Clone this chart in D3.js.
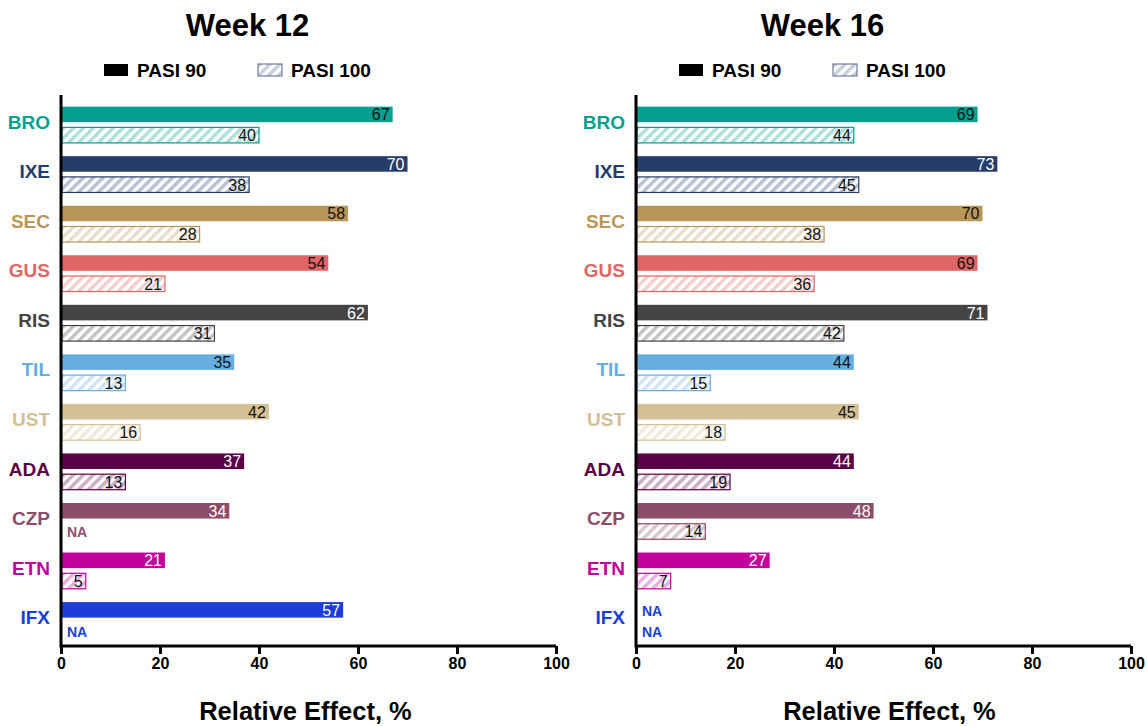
<!DOCTYPE html>
<html>
<head>
<meta charset="utf-8">
<script src="https://cdn.jsdelivr.net/npm/d3@7"></script>
<style>
  body { margin: 0; background: #fff; }
  svg { font-family: "Liberation Sans", Arial, sans-serif; }
</style>
</head>
<body>
<svg width="1147" height="726"></svg>
<script>
const drugs = ['BRO', 'IXE', 'SEC', 'GUS', 'RIS', 'TIL', 'UST', 'ADA', 'CZP', 'ETN', 'IFX']
const drugColors = ['#04a08f', '#263c69', '#b89758', '#e06565', '#444444', '#66ade0', '#d3c096', '#5a0046', '#8c4d6a', '#c4009b', '#1c3ed8']
// label colour inside the PASI 90 bar
const darkBars = ['IXE', 'RIS', 'ADA', 'CZP', 'ETN', 'IFX']

const week12Pasi90 = [67, 70, 58, 54, 62, 35, 42, 37, 34, 21, 57]
const week12Pasi100 = [40, 38, 28, 21, 31, 13, 16, 13, null, 5, null]
const week16Pasi90 = [69, 73, 70, 69, 71, 44, 45, 44, 48, 27, null]
const week16Pasi100 = [44, 45, 38, 36, 42, 15, 18, 19, 14, 7, null]

const xTicks = [0, 20, 40, 60, 80, 100]
const seriesNames = ['PASI 90', 'PASI 100']

const svg = d3.select('svg')
const defs = svg.append('defs')

function hatch(id, color) {
  const p = defs.append('pattern')
    .attr('id', id)
    .attr('patternUnits', 'userSpaceOnUse')
    .attr('width', 7).attr('height', 7)
    .attr('patternTransform', 'rotate(45)')
  p.append('rect').attr('width', 7).attr('height', 7).attr('fill', '#fff')
  p.append('rect').attr('width', 3.5).attr('height', 7).attr('fill', color).attr('opacity', 0.32)
}
drugs.forEach((d, i) => hatch('h-' + d, drugColors[i]))
hatch('h-legend', '#56668f')

const panels = [
  {title: 'Week 12', left: 61, labelShift: -3, p90: week12Pasi90, p100: week12Pasi100},
  {title: 'Week 16', left: 636, labelShift: 6, p90: week16Pasi90, p100: week16Pasi100}
]

panels.forEach(panel => {
  const g = svg.append('g')
  const xScale = d3.scaleLinear().domain([0, 100]).range([panel.left, panel.left + 495])
  const yScale = d3.scaleBand().domain(drugs).range([100, 645])
  const inner = d3.scaleBand().domain(seriesNames).range([0, yScale.bandwidth()]).paddingInner(0.25).paddingOuter(0.32)
  const mid = (xScale.range()[0] + xScale.range()[1]) / 2

  g.append('text')
    .attr('x', mid - 61).attr('y', 36)
    .attr('text-anchor', 'middle')
    .attr('font-size', 31).attr('font-weight', 'bold')
    .text(panel.title)

  // legend
  const lg = g.append('g').attr('transform', 'translate(' + (panel.left + 43) + ',0)')
  lg.append('rect').attr('x', 0).attr('y', 64).attr('width', 24).attr('height', 12).attr('fill', '#000')
  lg.append('text').attr('x', 33).attr('y', 77).attr('font-size', 19).attr('font-weight', 'bold').text(seriesNames[0])
  lg.append('rect').attr('x', 154).attr('y', 64).attr('width', 24).attr('height', 12)
    .attr('fill', 'url(#h-legend)').attr('stroke', '#56668f').attr('stroke-width', 1)
  lg.append('text').attr('x', 187).attr('y', 77).attr('font-size', 19).attr('font-weight', 'bold').text(seriesNames[1])

  const rows = g.append('g').selectAll('g')
    .data(drugs.map((d, i) => ({drug: d, color: drugColors[i], p90: panel.p90[i], p100: panel.p100[i]})))
    .enter().append('g')
    .attr('transform', d => 'translate(0,' + yScale(d.drug) + ')')

  rows.append('text')
    .attr('x', panel.left - 11).attr('y', yScale.bandwidth() / 2 + 4)
    .attr('text-anchor', 'end')
    .attr('font-size', 19).attr('font-weight', 'bold')
    .attr('fill', d => d.color)
    .text(d => d.drug)

  // PASI 90 solid bars
  rows.filter(d => d.p90 != null).append('rect')
    .attr('x', xScale(0)).attr('y', inner('PASI 90'))
    .attr('width', d => xScale(d.p90) - xScale(0))
    .attr('height', inner.bandwidth())
    .attr('fill', d => d.color)
  rows.filter(d => d.p90 != null).append('text')
    .attr('x', d => xScale(d.p90) - 3)
    .attr('y', inner('PASI 90') + inner.bandwidth() / 2 + 6)
    .attr('text-anchor', 'end').attr('font-size', 16)
    .attr('fill', d => darkBars.includes(d.drug) ? '#fff' : '#111')
    .text(d => d.p90)

  // PASI 100 hatched bars
  rows.filter(d => d.p100 != null).append('rect')
    .attr('x', xScale(0) + 1).attr('y', inner('PASI 100'))
    .attr('width', d => xScale(d.p100) - xScale(0) - 1)
    .attr('height', inner.bandwidth())
    .attr('fill', d => 'url(#h-' + d.drug + ')')
    .attr('stroke', d => d.color).attr('stroke-width', 1.2)
  rows.filter(d => d.p100 != null).append('text')
    .attr('x', d => xScale(d.p100) - 3)
    .attr('y', inner('PASI 100') + inner.bandwidth() / 2 + 6)
    .attr('text-anchor', 'end').attr('font-size', 16).attr('fill', '#111')
    .text(d => d.p100)

  // NA markers
  rows.filter(d => d.p90 == null).append('text')
    .attr('x', xScale(0) + 6).attr('y', inner('PASI 90') + inner.bandwidth() / 2 + 6)
    .attr('font-size', 14).attr('font-weight', 'bold').attr('fill', d => d.color)
    .text('NA')
  rows.filter(d => d.p100 == null).append('text')
    .attr('x', xScale(0) + 6).attr('y', inner('PASI 100') + inner.bandwidth() / 2 + 6)
    .attr('font-size', 14).attr('font-weight', 'bold').attr('fill', d => d.color)
    .text('NA')

  // axes
  const axisX = g.append('g')
    .attr('transform', 'translate(0,646)')
    .call(d3.axisBottom(xScale).tickValues(xTicks).tickSize(8).tickPadding(4))
  axisX.select('.domain').attr('stroke-width', 3).attr('d', 'M' + xScale(0) + ',0H' + xScale(100))
  axisX.selectAll('.tick line').attr('stroke-width', 3)
  axisX.selectAll('.tick text').attr('font-size', 16).attr('font-weight', 'bold').attr('fill', '#000')
    .attr('font-family', '"Liberation Sans", Arial, sans-serif')

  g.append('line')
    .attr('x1', xScale(0)).attr('x2', xScale(0))
    .attr('y1', 95).attr('y2', 647.5)
    .attr('stroke', '#000').attr('stroke-width', 3)

  g.append('text')
    .attr('x', mid + panel.labelShift).attr('y', 720)
    .attr('text-anchor', 'middle')
    .attr('font-size', 25.5).attr('font-weight', 'bold')
    .text('Relative Effect, %')
})
</script>
</body>
</html>
